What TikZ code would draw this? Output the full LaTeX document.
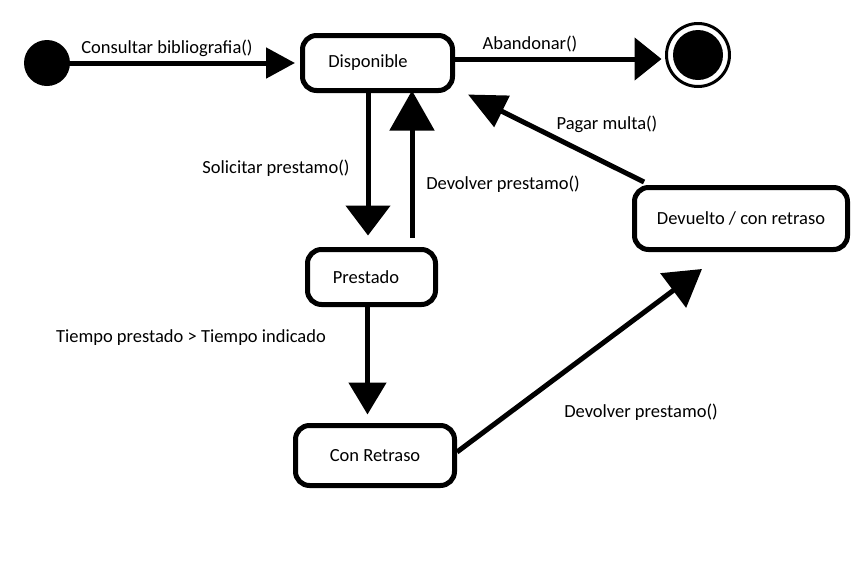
\documentclass[tikz,border=0pt]{standalone}
\usepackage{fontspec}
\setmainfont{Carlito}
\usetikzlibrary{arrows.meta}
\begin{document}
\begin{tikzpicture}[x=1pt,y=-1pt,
  txt/.style={font=\fontsize{18.5}{22}\selectfont},
  statebox/.style={draw, line width=5pt, rounded corners=14pt, inner sep=0pt, txt},
  conn/.style={line width=5pt},
  lbl/.style={inner sep=0pt, txt}]
\fill[white] (0,0) rectangle (859,563);
\useasboundingbox (0,0) rectangle (859,563);

\node[circle, fill=black, minimum size=46pt, inner sep=0pt] (init) at (47,63) {};
\node[statebox, minimum width=150pt, minimum height=55pt] (Disp) at (377.5,63) {\hspace*{-19pt}Disponible};
\node[circle, draw, line width=3pt, minimum size=63pt, inner sep=0pt] (final) at (698,55) {};
\fill (final.center) circle (25pt);
\node[statebox, minimum width=128pt, minimum height=55pt] (Prest) at (371.5,277) {\hspace*{-11pt}Prestado};
\node[statebox, minimum width=159pt, minimum height=60pt] (ConR) at (375,455.5) {Con Retraso};
\node[statebox, minimum width=213pt, minimum height=62pt] (Dev) at (741,218.5) {Devuelto / con retraso};

\draw[conn, -{Triangle[length=29pt,width=30pt]}, shorten >=5pt] (init.center) -- (init.center -| Disp.west);
\draw[conn, -{Triangle[length=27pt,width=42pt]}, shorten >=3.5pt] ([yshift=4pt]Disp.east) -- ([yshift=-4pt]final.west);
\draw[conn, -{Triangle[length=30pt,width=44pt]}, shorten >=11.5pt] ([xshift=-9.5pt]Disp.south) -- ([xshift=-9.5pt]Disp.south |- Prest.north);
\draw[conn, -{Triangle[length=40pt,width=44pt]}, shorten <=9.5pt, shorten >=-2.5pt] ([xshift=40.5pt]Prest.north) -- ([xshift=40.5pt]Prest.north |- Disp.south);
\draw[conn, -{Triangle[length=32pt,width=37pt]}, shorten >=8.5pt] ([xshift=-4pt]Prest.south) -- ([xshift=-4pt]Prest.south |- ConR.north);
\draw[conn, -{Triangle[length=36pt,width=42pt]}] ([yshift=3.5pt]ConR.east) -- ([xshift=-39pt,yshift=-17pt]Dev.south);
\draw[conn, -{Triangle[length=38pt,width=34pt]}] ([xshift=12pt,yshift=3pt]Dev.north west) -- ([xshift=13pt,yshift=-1.5pt]Disp.south east);

\node[lbl] (l1) at (167,48) {Consultar bibliografia()};
\node[lbl] (l2) at (530,44) {Abandonar()};
\node[lbl] (l3) at (607,124) {Pagar multa()};
\node[lbl] (l4) at (276,168) {Solicitar prestamo()};
\node[lbl] (l5) at (503,184) {Devolver prestamo()};
\node[lbl] (l6) at (191,338) {Tiempo prestado > Tiempo indicado};
\node[lbl] (l7) at (641,412) {Devolver prestamo()};
\end{tikzpicture}
\end{document}
